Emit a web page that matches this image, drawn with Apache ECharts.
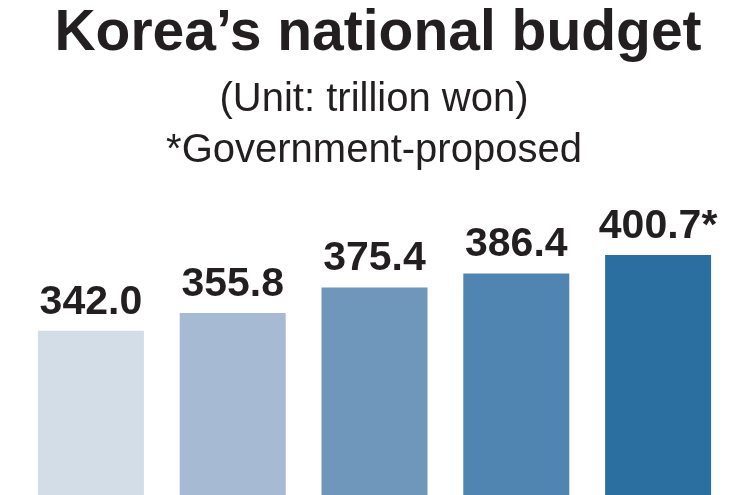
<!DOCTYPE html>
<html>
<head>
<meta charset="utf-8">
<script src="https://cdn.jsdelivr.net/npm/echarts@6/dist/echarts.min.js"></script>
<style>
html,body{margin:0;padding:0;background:#fff;}
#chart{width:750px;height:495px;}
</style>
</head>
<body>
<div id="chart"></div>
<script>
const categories = ['2013', '2014', '2015', '2016', '2017'];
const budgetValues = [342.0, 355.8, 375.4, 386.4, 400.7];
const valueLabels = ['342.0', '355.8', '375.4', '386.4', '400.7*'];
const barColors = ['#d3dde8', '#a6bbd3', '#6f96bb', '#5185b1', '#2a6fa0'];

const titleText = 'Korea\u2019s national budget';
const unitText = '(Unit: trillion won)';
const noteText = '*Government-proposed';

const chart = echarts.init(document.getElementById('chart'), null, {renderer: 'canvas'});
const FONT = '"Liberation Sans", Arial, Helvetica, sans-serif';
chart.setOption({
  backgroundColor: '#ffffff',
  animation: false,
  title: [
    {text: titleText, left: 373, textAlign: 'center', top: 1,
     textStyle: {fontFamily: FONT, fontSize: 57, fontWeight: 'bold', color: '#231f20'}},
    {text: unitText, left: 369, textAlign: 'center', top: 75,
     textStyle: {fontFamily: FONT, fontSize: 40, fontWeight: 'normal', color: '#231f20'}},
    {text: noteText, left: 369, textAlign: 'center', top: 126,
     textStyle: {fontFamily: FONT, fontSize: 40, fontWeight: 'normal', color: '#231f20'}}
  ],
  grid: {left: 20, right: 21, top: 217, bottom: 0, containLabel: false},
  xAxis: {
    type: 'category', data: categories,
    axisLine: {show: false}, axisTick: {show: false}, axisLabel: {show: false}
  },
  yAxis: {
    type: 'value', min: 215, max: 430,
    show: false, splitLine: {show: false}
  },
  series: [{
    type: 'bar',
    barWidth: 106,
    data: budgetValues.map((v, i) => ({value: v, itemStyle: {color: barColors[i]}})),
    label: {
      show: true, position: 'top', distance: 8,
      formatter: p => valueLabels[p.dataIndex],
      fontFamily: FONT, fontSize: 41, fontWeight: 'bold', color: '#231f20'
    }
  }]
});
</script>
</body>
</html>
